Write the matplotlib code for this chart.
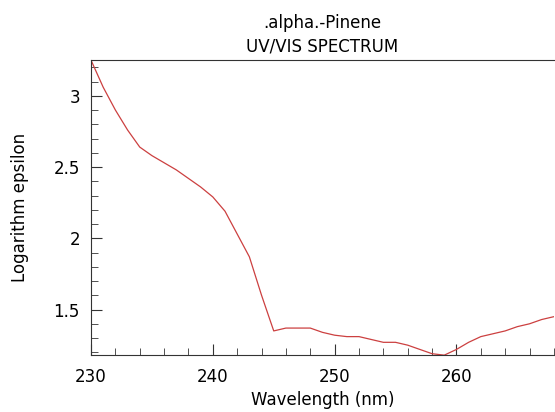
import numpy as np
import matplotlib.pyplot as plt
from matplotlib.ticker import MultipleLocator, FormatStrFormatter

# Spektrum (1 nm Schritte)
wavelength = [230, 231, 232, 233, 234, 235, 236, 237, 238, 239,
              240, 241, 242, 243, 244, 245, 246, 247, 248, 249,
              250, 251, 252, 253, 254, 255, 256, 257, 258, 259,
              260, 261, 262, 263, 264, 265, 266, 267, 268]
log_eps = [3.25, 3.06, 2.90, 2.76, 2.64, 2.58, 2.53, 2.48, 2.42, 2.36,
           2.29, 2.19, 2.03, 1.87, 1.60, 1.35, 1.37, 1.37, 1.37, 1.34,
           1.32, 1.31, 1.31, 1.29, 1.27, 1.27, 1.25, 1.22, 1.19, 1.18,
           1.22, 1.27, 1.31, 1.33, 1.35, 1.38, 1.40, 1.43, 1.45]

x = np.array(wavelength)
y = np.array(log_eps)

fig = plt.figure(figsize=(5.55, 4.12), dpi=100)
ax = fig.add_axes([0.164, 0.138, 0.834, 0.716])
ax.plot(x, y, color='#cc4040', lw=0.9)

ax.set_xlim(x.min(), x.max())
ax.set_ylim(y.min(), y.max())

ax.xaxis.set_major_locator(MultipleLocator(10))
ax.xaxis.set_minor_locator(MultipleLocator(2))
ax.yaxis.set_major_locator(MultipleLocator(0.5))
ax.yaxis.set_minor_locator(MultipleLocator(0.1))
ax.yaxis.set_major_formatter(FormatStrFormatter('%g'))
ax.tick_params(which='both', direction='in', top=False, right=False,
               labelsize=12, color='#333333')
ax.tick_params(which='major', length=8)
ax.tick_params(which='minor', length=5)
ax.tick_params(axis='x', which='major', pad=9)
ax.tick_params(axis='y', which='major', pad=8)
ax.spines['right'].set_visible(False)
for s in ['left', 'bottom', 'top']:
    ax.spines[s].set_color('#333333')

ax.set_xlabel('Wavelength (nm)', fontsize=12, labelpad=4)
ax.set_ylabel('Logarithm epsilon', fontsize=12)
ax.yaxis.set_label_coords(-0.133, 0.5)
ax.set_title('.alpha.-Pinene\nUV/VIS SPECTRUM', fontsize=12, pad=6,
             linespacing=1.45)

fig.savefig('out.png', dpi=100)
